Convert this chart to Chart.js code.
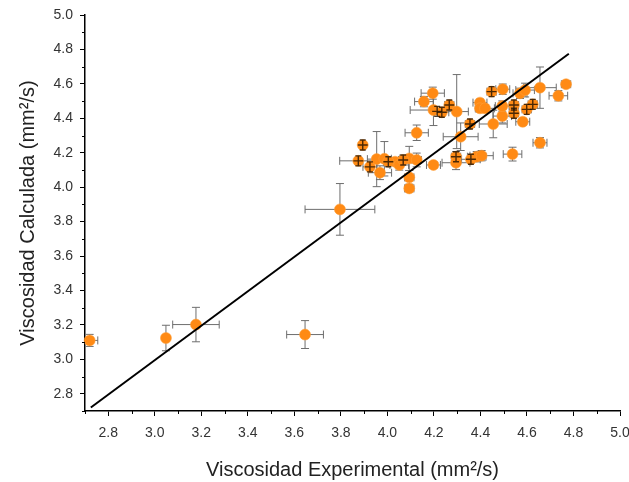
<!DOCTYPE html>
<html>
<head>
<meta charset="utf-8">
<script src="https://cdn.jsdelivr.net/npm/chart.js@4.4.0/dist/chart.umd.min.js"></script>
<style>
  html,body{margin:0;padding:0;background:#fff;}
  #wrap{width:629px;height:482px;}
</style>
</head>
<body>
<div id="wrap"><canvas id="c" width="629" height="482"></canvas></div>
<script>
// ---- data ----
const xTicks = [2.8, 3.0, 3.2, 3.4, 3.6, 3.8, 4.0, 4.2, 4.4, 4.6, 4.8, 5.0];
const yTicks = [2.8, 3.0, 3.2, 3.4, 3.6, 3.8, 4.0, 4.2, 4.4, 4.6, 4.8, 5.0];

const expX  = [2.72, 3.048, 3.177, 3.646, 3.796, 4.195, 4.157, 4.266, 4.198, 4.234,
               4.298, 4.126, 3.894, 3.875, 3.925, 3.954, 3.968, 3.987, 4.033, 4.051,
               4.094, 4.126, 4.094, 4.094, 4.198, 4.295, 4.295, 4.359, 4.384, 4.405,
               4.315, 4.355, 4.455, 4.494, 4.494, 4.398, 4.398, 4.420, 4.448, 4.496,
               4.582, 4.570, 4.592, 4.656, 4.735, 4.768, 4.656, 4.538, 4.544, 4.544,
               4.599, 4.625, 4.004, 4.068];
const calcY = [3.11, 3.124, 3.202, 3.144, 3.871, 4.546, 4.497, 4.477, 4.448, 4.435,
               4.439, 4.316, 4.245, 4.153, 4.118, 4.163, 4.084, 4.165, 4.148, 4.129,
               4.167, 4.158, 4.057, 3.993, 4.129, 4.177, 4.142, 4.162, 4.177, 4.183,
               4.293, 4.367, 4.367, 4.413, 4.471, 4.491, 4.458, 4.458, 4.555, 4.569,
               4.380, 4.545, 4.564, 4.578, 4.531, 4.598, 4.258, 4.192, 4.477, 4.429,
               4.452, 4.481, 4.148, 4.158];
const errX  = [0.035, 0.0, 0.10, 0.079, 0.15, 0.05, 0.04, 0.02, 0.10, 0.03,
               0.05, 0.05, 0.01, 0.08, 0.03, 0.04, 0.05, 0.03, 0.03, 0.04,
               0.04, 0.02, 0.02, 0.02, 0.03, 0.02, 0.06, 0.04, 0.04, 0.05,
               0.075, 0.02, 0.06, 0.04, 0.03, 0.03, 0.02, 0.04, 0.02, 0.03,
               0.03, 0.03, 0.04, 0.07, 0.04, 0.02, 0.03, 0.04, 0.02, 0.02,
               0.02, 0.02, 0.02, 0.02];
const errY  = [0.035, 0.074, 0.10, 0.081, 0.15, 0.035, 0.03, 0.02, 0.09, 0.02,
               0.215, 0.045, 0.01, 0.02, 0.02, 0.16, 0.04, 0.10, 0.02, 0.03,
               0.07, 0.04, 0.04, 0.02, 0.02, 0.03, 0.04, 0.02, 0.03, 0.03,
               0.08, 0.02, 0.08, 0.04, 0.03, 0.02, 0.02, 0.02, 0.02, 0.03,
               0.02, 0.03, 0.04, 0.12, 0.03, 0.02, 0.03, 0.04, 0.02, 0.02,
               0.02, 0.02, 0.02, 0.02];
// points marked with a dark cross
const crossX = [4.266, 4.234, 3.894, 3.875, 3.925, 4.004, 4.068, 4.295, 4.359, 4.355,
                4.448, 4.544, 4.544, 4.599, 4.625, 4.214];
const crossY = [4.477, 4.435, 4.245, 4.153, 4.118, 4.148, 4.158, 4.177, 4.162, 4.367,
                4.555, 4.477, 4.429, 4.452, 4.481, 4.440];
// fitted line
const lineX = [2.725, 4.78];
const lineY = [2.72, 4.775];

const ORANGE = '#FF8A14';
const FONT = '"Liberation Sans", Arial, sans-serif';

const errorBars = {
  id: 'errorBars',
  beforeDatasetsDraw(chart) {
    const {ctx, scales: {x, y}, chartArea} = chart;
    ctx.save();
    ctx.strokeStyle = '#6e6e6e';
    ctx.lineWidth = 1;
    const cap = 4;
    for (let i = 0; i < expX.length; i++) {
      const px = x.getPixelForValue(expX[i]);
      const py = y.getPixelForValue(calcY[i]);
      if (errX[i] > 0) {
        const l = x.getPixelForValue(expX[i] - errX[i]);
        const r = x.getPixelForValue(expX[i] + errX[i]);
        ctx.beginPath();
        ctx.moveTo(Math.max(l, chartArea.left), py); ctx.lineTo(r, py);
        if (l >= chartArea.left) { ctx.moveTo(l, py - cap); ctx.lineTo(l, py + cap); }
        ctx.moveTo(r, py - cap); ctx.lineTo(r, py + cap);
        ctx.stroke();
      }
      if (errY[i] > 0) {
        const t = y.getPixelForValue(calcY[i] + errY[i]);
        const b = y.getPixelForValue(calcY[i] - errY[i]);
        ctx.beginPath();
        ctx.moveTo(px, t); ctx.lineTo(px, b);
        ctx.moveTo(px - cap, t); ctx.lineTo(px + cap, t);
        ctx.moveTo(px - cap, b); ctx.lineTo(px + cap, b);
        ctx.stroke();
      }
    }
    ctx.restore();
  },
  afterDatasetsDraw(chart) {
    const {ctx, scales: {x, y}} = chart;
    ctx.save();
    ctx.strokeStyle = 'rgba(30,15,0,0.8)';
    ctx.lineWidth = 1.4;
    for (let i = 0; i < crossX.length; i++) {
      const px = x.getPixelForValue(crossX[i]);
      const py = y.getPixelForValue(crossY[i]);
      const h = 5, c = 3;
      ctx.beginPath();
      ctx.moveTo(px - h, py); ctx.lineTo(px + h, py);
      ctx.moveTo(px, py - h); ctx.lineTo(px, py + h);
      ctx.moveTo(px - c, py - h); ctx.lineTo(px + c, py - h);
      ctx.moveTo(px - c, py + h); ctx.lineTo(px + c, py + h);
      ctx.stroke();
    }
    ctx.restore();
  },
  afterDraw(chart) {
    // minor ticks midway between the major ones
    const {ctx, scales: {x, y}, chartArea} = chart;
    ctx.save();
    ctx.strokeStyle = '#000';
    ctx.lineWidth = 1;
    const xm = [2.7].concat(xTicks.slice(0, -1).map((v, i) => (v + xTicks[i + 1]) / 2));
    xm.forEach(v => {
      const p = Math.round(x.getPixelForValue(v)) + 0.5;
      ctx.beginPath(); ctx.moveTo(p, chartArea.bottom); ctx.lineTo(p, chartArea.bottom + 3); ctx.stroke();
    });
    const ym = [2.7].concat(yTicks.slice(0, -1).map((v, i) => (v + yTicks[i + 1]) / 2));
    ym.forEach(v => {
      const p = Math.round(y.getPixelForValue(v)) + 0.5;
      ctx.beginPath(); ctx.moveTo(chartArea.left, p); ctx.lineTo(chartArea.left - 3, p); ctx.stroke();
    });
    ctx.restore();
  }
};

new Chart(document.getElementById('c'), {
  type: 'scatter',
  data: {
    datasets: [
      {
        type: 'line',
        data: lineX.map((v, i) => ({x: v, y: lineY[i]})),
        borderColor: '#000',
        borderWidth: 2,
        pointRadius: 0,
        fill: false,
        order: 0
      },
      {
        data: expX.map((v, i) => ({x: v, y: calcY[i]})),
        backgroundColor: ORANGE,
        borderColor: 'rgba(255,160,60,0.55)',
        borderWidth: 1,
        pointRadius: 5.5,
        clip: false,
        order: 1
      }
    ]
  },
  options: {
    responsive: false,
    animation: false,
    layout: {padding: {left: 16, right: 0, top: 15, bottom: 0}},
    plugins: {legend: {display: false}, tooltip: {enabled: false}},
    scales: {
      x: {
        type: 'linear', min: 2.7, max: 5.0,
        afterBuildTicks: s => { s.ticks = xTicks.map(v => ({value: v})); },
        afterFit: s => { s.height = 71; s.paddingRight = 9; s.paddingLeft = 0; },
        border: {color: '#000', width: 1.5},
        grid: {drawOnChartArea: false, tickLength: 5, tickColor: '#000', tickWidth: 1},
        ticks: {color: '#333', font: {family: FONT, size: 14}, padding: 9,
                callback: v => v.toFixed(1), maxRotation: 0, autoSkip: false},
        title: {display: true, text: 'Viscosidad Experimental (mm²/s)', color: '#222',
                font: {family: FONT, size: 20}, padding: {top: 3, bottom: 0}}
      },
      y: {
        type: 'linear', min: 2.7, max: 5.0,
        afterBuildTicks: s => { s.ticks = yTicks.map(v => ({value: v})); },
        afterFit: s => { s.width = 69; s.paddingTop = 0; s.paddingBottom = 0; },
        border: {color: '#000', width: 1.5},
        grid: {drawOnChartArea: false, tickLength: 5, tickColor: '#000', tickWidth: 1},
        ticks: {color: '#333', font: {family: FONT, size: 14}, padding: 7,
                callback: v => v.toFixed(1), autoSkip: false},
        title: {display: true, text: 'Viscosidad Calculada (mm²/s)', color: '#222',
                font: {family: FONT, size: 20}, padding: {top: 0, bottom: 6}}
      }
    }
  },
  plugins: [errorBars]
});
</script>
</body>
</html>
